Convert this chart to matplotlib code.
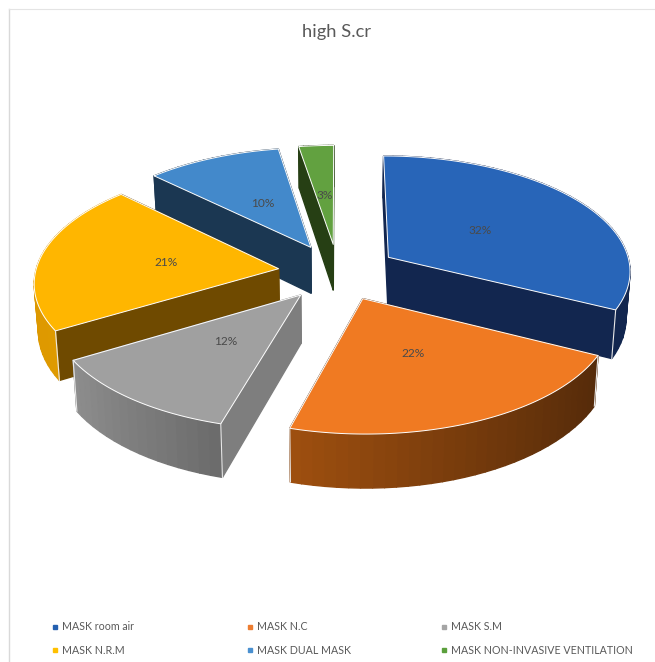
import numpy as np
import matplotlib
matplotlib.use("Agg")
import matplotlib.pyplot as plt
from matplotlib.patches import Polygon
from matplotlib.colors import to_rgb

title = "high S.cr"
categories = ["MASK room air", "MASK N.C", "MASK S.M", "MASK N.R.M", "MASK DUAL MASK",
              "MASK NON-INVASIVE VENTILATION"]
values = [32.4, 22.0, 12.0, 20.9, 10.1, 2.6]

top_colors = ["#2865B8", "#F07A22", "#A0A0A0", "#FFB600", "#4389CB", "#62A140"]
legend_colors = ["#2460B0", "#ED7D31", "#A5A5A5", "#FFC000", "#4A90D0", "#5B9F3C"]
radial_colors = ["#12264F", "#5E300D", "#7E7E7E", "#6F4A00", "#1B3752", "#263F14"]
rim_from = ["#12264F", "#A0500F", "#8E8E8E", "#DD9800", "#1B3752", "#263F14"]
rim_to = ["#12264F", "#562B0A", "#6C6C6C", "#E09C00", "#1B3752", "#263F14"]
text_color = "#595959"

plt.rcParams["font.family"] = ["Lato", "DejaVu Sans"]
W, H = 655, 662
fig = plt.figure(figsize=(W / 100, H / 100), dpi=100, facecolor="white")
ax = fig.add_axes([0, 0, 1, 1])
ax.set_xlim(0, W)
ax.set_ylim(H, 0)
ax.axis("off")

# projection of the pie plane
cx, cy, rx, ry, persp, explode, depth, shrink = 338, 272, 243, 115, 0.106, 0.247, 47, 0.986


def project(X, Y):
    d = 1 + persp * Y
    return cx + rx * X / d, cy - ry * Y / d


def lower(X, Y):
    x, y = project(X, Y)
    return cx + (x - cx) * shrink, y + depth / (1 + persp * Y)


total = sum(values)
edges = np.cumsum([0] + values) / total * 2 * np.pi
slices = []
for i in range(len(values)):
    a0, a1 = edges[i], edges[i + 1]
    m = (a0 + a1) / 2
    ox, oy = explode * np.sin(m), explode * np.cos(m)
    slices.append((oy, i, a0, a1, m, ox, oy))

for oy_key, i, a0, a1, m, ox, oy in sorted(slices, key=lambda s: -s[0]):
    th = np.linspace(a0, a1, max(8, int((a1 - a0) * 24)))
    X = ox + np.sin(th)
    Y = oy + np.cos(th)
    faces = []
    # two radial faces
    for ex, ey in ((X[0], Y[0]), (X[-1], Y[-1])):
        pts = [project(ox, oy), project(ex, ey), lower(ex, ey), lower(ox, oy)]
        faces.append(((oy + ey) / 2, pts, radial_colors[i]))
    # curved rim in short strips
    c0, c1 = np.array(to_rgb(rim_from[i])), np.array(to_rgb(rim_to[i]))
    xs = X
    for j in range(len(th) - 1):
        t = (xs[j] - xs.min()) / max(xs.max() - xs.min(), 1e-6)
        col = c0 + (c1 - c0) * t
        pts = [project(X[j], Y[j]), project(X[j + 1], Y[j + 1]),
               lower(X[j + 1], Y[j + 1]), lower(X[j], Y[j])]
        faces.append(((Y[j] + Y[j + 1]) / 2, pts, col))
    for _, pts, col in sorted(faces, key=lambda f: -f[0]):
        ax.add_patch(Polygon(pts, closed=True, facecolor=col, edgecolor=col, linewidth=1.0))
    # bright vertical corners at the near rim ends
    for ex, ey in ((X[0], Y[0]), (X[-1], Y[-1])):
        if ey < 0:
            p, q = project(ex, ey), lower(ex, ey)
            ax.plot([p[0], q[0]], [p[1], q[1]], color="#E8E8E8", lw=0.8)
    # top surface
    th2 = np.linspace(a0, a1, 120)
    top = [project(ox, oy)] + [project(a, b) for a, b in zip(ox + np.sin(th2), oy + np.cos(th2))]
    ax.add_patch(Polygon(top, closed=True, facecolor=top_colors[i], edgecolor="white",
                         linewidth=0.7, joinstyle="round"))

# data labels
for oy_key, i, a0, a1, m, ox, oy in slices:
    lx, ly = project(ox + 0.47 * np.sin(m), oy + 0.47 * np.cos(m))
    ax.text(lx, ly, f"{round(values[i] / total * 100)}%", ha="center", va="center",
            fontsize=8.6, color="#4A4A4A")

ax.text(337, 32, title, ha="center", va="center", fontsize=13.2, color=text_color)

# frame
ax.plot([9, 9], [9, H], color="#D9D9D9", lw=1)
ax.plot([9, W], [9, 9], color="#E4E4E4", lw=0.8)

# legend
col_x = [55, 250, 444]
row_y = [627, 650]
for i, name in enumerate(categories):
    x, y = col_x[i % 3], row_y[i // 3]
    ax.plot([x], [y], marker="s", ms=3.4, color=legend_colors[i], ls="none")
    ax.text(x + 7, y, name, ha="left", va="center", fontsize=7.7, color=text_color)

fig.savefig("out.png", dpi=100, facecolor="white")
